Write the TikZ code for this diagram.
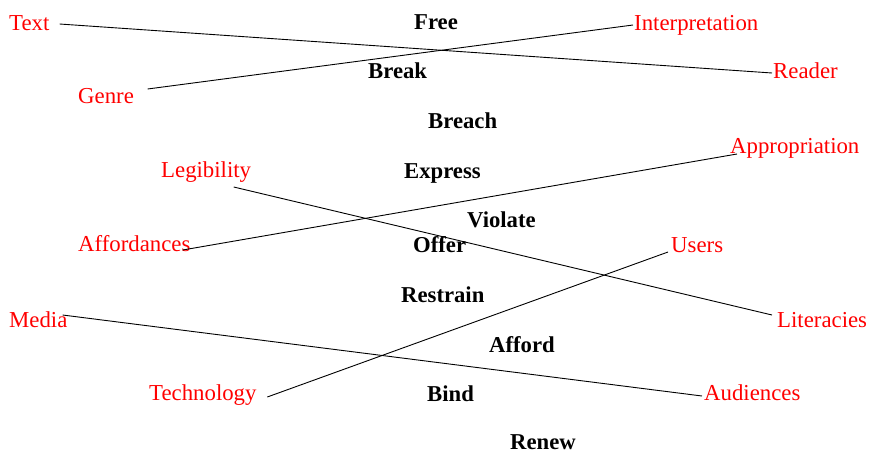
\documentclass[tikz,border=0pt]{standalone}
\usepackage{fontspec}
\setmainfont{Liberation Serif}
\usetikzlibrary{positioning}
\tikzset{
    %Define style for red terms
    term/.style={
           anchor=base west,
           inner sep=0pt,
           text=red,
           font=\fontsize{22.8}{27}\selectfont,
           },
    %Define style for bold verbs
    verb/.style={
           anchor=base west,
           inner sep=0pt,
           text=black,
           font=\fontsize{22.7}{27}\selectfont\bfseries,
           },
    % Define link style
    link/.style={
           draw=black,
           line width=0.9pt,},
}
\begin{document}
\begin{tikzpicture}[x=1pt,y=-1pt]
\useasboundingbox (0,0) rectangle (869,453);

 %terms
\node[term](txt) at (9,30){Text};
\node[term](intp) at (634,30){Interpretation};
\node[term](rdr) at (773,78){Reader};
\node[term](gen) at (78,103){Genre};
\node[term](appr) at (730,153){Appropriation};
\node[term](leg) at (161,177){Legibility};
\node[term](aff) at (78,251){Affordances};
\node[term](usr) at (671,252){Users};
\node[term](med) at (9,327){Media};
\node[term](lit) at (777,327){Literacies};
\node[term](tech) at (149,400){Technology};
\node[term](aud) at (704,400){Audiences};

 %verbs
\node[verb](free) at (414,29){Free};
\node[verb](break) at (368,78){Break};
\node[verb](breach) at (428,128){Breach};
\node[verb](express) at (404,178){Express};
\node[verb](violate) at (467,227){Violate};
\node[verb](offer) at (413,252){Offer};
\node[verb](restrain) at (401,302){Restrain};
\node[verb](afford) at (489,352){Afford};
\node[verb](bind) at (427,401){Bind};
\node[verb](renew) at (510,449){Renew};

 %links
\draw[link] ([xshift=10pt,yshift=6pt]txt.base east) -- ([xshift=-1pt,yshift=5pt]rdr.base west);
\draw[link] ([xshift=13.5pt,yshift=14pt]gen.base east) -- ([xshift=-1pt,yshift=5pt]intp.base west);
\draw[link] ([xshift=-17.6pt,yshift=-10pt]leg.base east) -- ([xshift=-5pt,yshift=12pt]lit.base west);
\draw[link] ([xshift=-8pt,yshift=1pt]aff.base east) -- ([xshift=7pt,yshift=-1pt]appr.base west);
\draw[link] ([xshift=-5pt,yshift=12pt]med.base east) -- ([xshift=-2pt,yshift=4pt]aud.base west);
\draw[link] ([xshift=10.6pt,yshift=3pt]tech.base east) -- ([xshift=-3pt]usr.base west);

\end{tikzpicture}
\end{document}
